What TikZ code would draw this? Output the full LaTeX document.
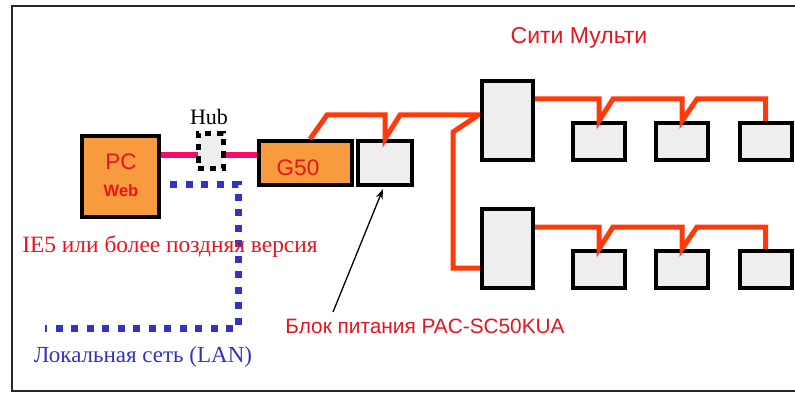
\documentclass[tikz,border=0pt]{standalone}
\usepackage{fontspec}
\setmainfont{Liberation Serif}
\setsansfont{Liberation Sans}
\usetikzlibrary{arrows.meta}
\definecolor{boxorange}{RGB}{247,155,62}
\definecolor{boxgray}{RGB}{238,238,238}
\definecolor{txtred}{RGB}{235,20,30}
\definecolor{wirered}{RGB}{255,58,10}
\definecolor{hubpink}{RGB}{250,10,105}
\definecolor{lanblue}{RGB}{50,50,200}
\definecolor{framegray}{RGB}{40,40,40}
\tikzset{
  dev/.style={draw=black, line width=4pt, inner sep=0pt, anchor=center},
  orangebox/.style={dev, fill=boxorange},
  graybox/.style={dev, fill=boxgray},
  wire/.style={draw=wirered, line width=5pt, line join=miter},
  sanslbl/.style={font=\sffamily, text=txtred, inner sep=0pt, anchor=center},
}
\begin{document}
\begin{tikzpicture}[x=1pt,y=-1pt]
\useasboundingbox (0,0) rectangle (795,393);
\fill[white] (0,0) rectangle (795,393);
% frame
\draw[framegray, line width=2pt] (795,6.5) -- (11.5,6.5) -- (11.5,391) -- (795,391);

% LAN dotted line
\coordinate (lanA) at (170,184);
\coordinate (lanB) at (238,184);
\coordinate (lanC) at (238,328);
\coordinate (lanD) at (45,328);
\draw[lanblue, line width=7pt, dash pattern=on 7pt off 8.5pt] (lanA) -- (lanB) -- (lanC) -- (lanD);

% devices
\node[orangebox, minimum width=77pt, minimum height=81pt] (pc) at (120.5,176.5) {};
\node[orangebox, minimum width=93pt, minimum height=44pt] (g50) at (305.5,163) {};
\node[graybox, minimum width=54pt, minimum height=44pt] (psu) at (385,163) {};
\node[graybox, minimum width=51pt, minimum height=79pt] (bc1) at (507.5,120.5) {};
\node[graybox, minimum width=51pt, minimum height=79pt] (bc2) at (507.5,248.5) {};
\foreach \i/\x in {1/599,2/682,3/765.5}{
  \node[graybox, minimum width=52pt, minimum height=37pt] (ua\i) at (\x,141.5) {};
  \node[graybox, minimum width=52pt, minimum height=37pt] (ub\i) at (\x,269.5) {};
}

% pink cables PC - hub - G50
\coordinate (hubc) at (210.5,151);
\draw[hubpink, line width=6.5pt] (pc.east |- 0,155) -- (hubc |- 0,155);
\draw[hubpink, line width=6.5pt] (hubc |- 0,155) -- (g50.west |- 0,155);
\node[draw=black, fill=boxgray, line width=5pt, dash pattern=on 6pt off 6pt,
      minimum width=25pt, minimum height=35pt, inner sep=0pt] (hub) at (hubc) {};
\node[font=\rmfamily\fontsize{22}{22}\selectfont, inner sep=0pt] (hublbl) at (209,117) {Hub};

% M-NET wires
\draw[wire] ([xshift=4.5pt]g50.north) -- (327,115) -- (psu.north |- 0,115) -- (psu.north)
  -- (400,115) -- (bc1.west |- 0,115);
\draw[wire] (477,116) -- (453,132) -- (453,268) -- (bc2.west |- 0,268);
\draw[wire] (bc1.east |- 0,99) -- (ua1.north |- 0,99) -- (ua1.north) -- (613,99)
  -- (ua2.north |- 0,99) -- (ua2.north) -- (697,99) -- (ua3.north |- 0,99) -- (ua3.north);
\draw[wire] (bc2.east |- 0,227) -- (ub1.north |- 0,227) -- (ub1.north) -- (613,227)
  -- (ub2.north |- 0,227) -- (ub2.north) -- (697,227) -- (ub3.north |- 0,227) -- (ub3.north);

% labels
\node[sanslbl, font=\sffamily\fontsize{22.5}{22.5}\selectfont] (pctxt) at (121,162) {PC};
\node[sanslbl, font=\sffamily\bfseries\fontsize{16.5}{16.5}\selectfont] (webtxt) at (121,191) {Web};
\node[sanslbl, font=\sffamily\fontsize{22.5}{22.5}\selectfont] (g50txt) at (298,168) {G50};
\node[sanslbl, font=\sffamily\fontsize{23}{23}\selectfont] (cm) at (579,38) {Сити Мульти};
\node[text=txtred, font=\rmfamily\fontsize{23.4}{23.4}\selectfont, inner sep=0pt] (ie) at (170,247) {IE5 или более поздняя версия};
\node[sanslbl, font=\sffamily\fontsize{20.8}{20.8}\selectfont] (psulbl) at (425,326) {Блок питания PAC-SC50KUA};
\node[text=lanblue, font=\rmfamily\fontsize{23}{23}\selectfont, inner sep=0pt] (lan) at (143,357) {Локальная сеть (LAN)};

% arrow to PSU
\coordinate (arrtail) at (333,312);
\draw[black, line width=1.3pt, -{Stealth[length=10pt,width=7pt]}] (arrtail) -- ([xshift=-2pt,yshift=-2pt]psu.south);
\end{tikzpicture}
\end{document}
